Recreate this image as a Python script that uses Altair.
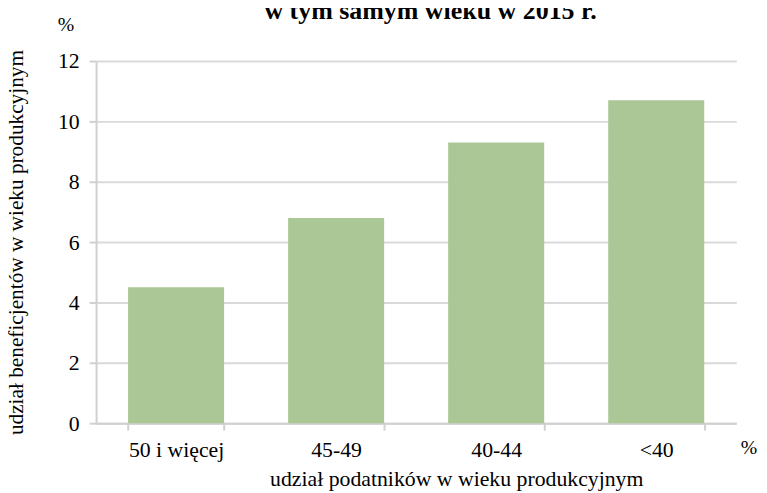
import altair as alt
import pandas as pd

categories = ["50 i więcej", "45-49", "40-44", "<40"]
values = [4.5, 6.8, 9.3, 10.7]
y_ticks = [0, 2, 4, 6, 8, 10, 12]

title_text = "w tym samym wieku w 2015 r."
x_title = "udział podatników w wieku produkcyjnym"
y_title = "udział beneficjentów w wieku produkcyjnym"

FONT = "'Liberation Serif', 'Times New Roman', Times, serif"
GRID = "#d9d9d9"
AXIS = "#d0d0d0"
BAR = "#abc795"

df = pd.DataFrame({"kat": categories, "val": values})

W, H = 647, 366

bars = alt.Chart(df).mark_bar(color=BAR).encode(
    x=alt.X("kat:N", sort=categories,
            scale=alt.Scale(paddingInner=0.4, paddingOuter=0.2),
            axis=alt.Axis(title=x_title, labelAngle=0, labelFontSize=22,
                          labelFont=FONT, labelColor="#000000",
                          titleFont=FONT, titleFontSize=22, titleFontWeight="normal",
                          titleColor="#000000", titleX=364, titleY=63,
                          titleBaseline="alphabetic",
                          tickSize=7, tickColor=AXIS, tickWidth=2,
                          tickBand="extent",
                          domainColor=AXIS, domainWidth=2,
                          labelPadding=10, grid=False)),
    y=alt.Y("val:Q", scale=alt.Scale(domain=[0, 12], nice=False),
            axis=alt.Axis(title=y_title, values=y_ticks, labelFontSize=22,
                          labelFont=FONT, labelColor="#000000",
                          titleFont=FONT, titleFontSize=21.5, titleFontWeight="normal",
                          titleColor="#000000", titleX=-80, titleY=183,
                          titleBaseline="middle", titleAngle=-90,
                          tickSize=7, tickColor=AXIS, tickWidth=2,
                          domainColor=AXIS, domainWidth=2,
                          labelPadding=10, grid=True, gridColor=GRID,
                          gridWidth=2)),
)

title_mark = alt.Chart(pd.DataFrame({"t": [title_text]})).mark_text(
    font=FONT, fontSize=26.2, fontWeight="bold", color="#000000",
    align="center", baseline="alphabetic"
).encode(text="t:N", x=alt.value(338), y=alt.value(-42))

pct_left = alt.Chart(pd.DataFrame({"t": ["%"]})).mark_text(
    font=FONT, fontSize=20, color="#000000", align="center", baseline="alphabetic"
).encode(text="t:N", x=alt.value(-30.5), y=alt.value(-30))

pct_right = alt.Chart(pd.DataFrame({"t": ["%"]})).mark_text(
    font=FONT, fontSize=20, color="#000000", align="center", baseline="alphabetic"
).encode(text="t:N", x=alt.value(660), y=alt.value(397))

chart = alt.layer(bars, title_mark, pct_left, pct_right).properties(
    width=W, height=H,
    autosize=alt.AutoSizeParams(type="none"),
    padding={"left": 89, "top": 51, "right": 23, "bottom": 68},
    background="#ffffff",
).configure_view(stroke=None)

chart.save("out.html", embed_options={"renderer": "svg", "actions": False})
